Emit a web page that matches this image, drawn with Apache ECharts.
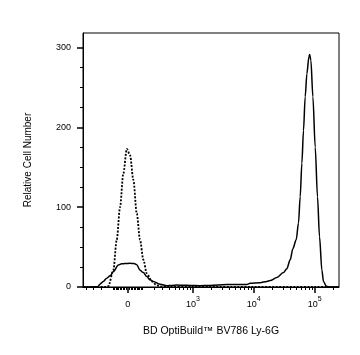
<!DOCTYPE html>
<html>
<head>
<meta charset="utf-8">
<script src="https://cdn.jsdelivr.net/npm/echarts@6/dist/echarts.min.js"></script>
<style>
html,body{margin:0;padding:0;background:#fff;}
#c{width:360px;height:355px;}
</style>
</head>
<body>
<div id="c"></div>
<script>
// ---- data (fluorescence intensity vs. relative cell number) ----
const solidX = [-452, -338, -238, -217, -183, -152, -124, -99, -63, -40,
  -18, 15, 42, 60, 83, 108, 135, 163, 194, 269,
  358, 444, 536, 700, 901, 1300, 1930, 3630, 7725, 8750,
  12770, 16430, 18670, 23960, 30780, 34950, 39620, 43870, 49700, 54220,
  57800, 61620, 65480, 69810, 74420, 80270, 82700, 86500, 93400, 101900,
  111100, 119900, 131100, 139300, 154300, 179400, 250000];
const solidY = [0, 0, 0.5, 3.5, 7, 11, 14, 19, 27.5, 29,
  29.5, 29.6, 29.5, 28, 21, 18, 13, 9, 7, 3.3,
  1.5, 2, 2.4, 2.2, 2, 1.7, 2, 3, 3, 4.6,
  5.4, 7, 8, 12, 18, 23, 34, 48, 59, 80,
  113, 155, 196, 238, 267, 288, 291, 284, 238, 175,
  113, 63, 21, 7, 1, 0, 0];
const dotX = [-452, -158, -138, -99, -74, -51, -29, -6, 15, 37, 60, 83, 108, 135, 180, 230, 281, 400, 1000, 10000, 100000, 250000];
const dotY = [0, 0, 1, 21, 59, 100, 142, 173, 165, 134, 92, 59, 34, 17, 7, 2, 0.5, 0, 0, 0, 0, 0];

const xMajorValues = [0, 1e3, 1e4, 1e5];
const xMajorLabels = ['0', '10^3', '10^4', '10^5'];
const xMinorValues = [-400, -300, -200, -100, -90, -80, -70, -60, -50, -40, -30, -20, -10,
  10, 20, 30, 40, 50, 60, 70, 80, 90,
  100, 200, 300, 400, 500, 600, 700, 800, 900,
  2000, 3000, 4000, 5000, 6000, 7000, 8000, 9000,
  20000, 30000, 40000, 50000, 60000, 70000, 80000, 90000, 200000];
const yTicks = [0, 100, 200, 300];
const xTitle = 'BD OptiBuild™ BV786 Ly-6G';
const yTitle = 'Relative Cell Number';

// biexponential-like (arcsinh) display transform
const W = 173;
const T = v => Math.asinh(v / W);
const xMin = T(-452), xMax = T(250000);

const font = '"Liberation Sans", Arial, Helvetica, sans-serif';
const chart = echarts.init(document.getElementById('c'), null, {renderer: 'canvas'});

function fmtX(val) {
  for (let i = 0; i < xMajorValues.length; i++) {
    if (Math.abs(T(xMajorValues[i]) - val) < 1e-6) {
      const s = xMajorLabels[i];
      if (s.indexOf('^') >= 0) {
        const p = s.split('^');
        return '{b|' + p[0] + '}{s|' + p[1] + '}';
      }
      return '{b|' + s + '}';
    }
  }
  return '';
}

chart.setOption({
  animation: false,
  backgroundColor: '#fff',
  grid: {left: 83, right: 21, top: 33, bottom: 68, show: true, borderColor: '#000', borderWidth: 1, backgroundColor: 'transparent'},
  xAxis: [{
    type: 'value', min: xMin, max: xMax, position: 'bottom',
    name: xTitle, nameLocation: 'middle', nameGap: 39,
    nameTextStyle: {fontFamily: font, fontSize: 10.5, color: '#000'},
    axisLine: {show: true, onZero: false, lineStyle: {color: '#000', width: 1}},
    axisTick: {show: true, length: 6, inside: false, lineStyle: {color: '#000', width: 1.5},
      customValues: xMajorValues.map(T)},
    axisLabel: {show: true, margin: 10, customValues: xMajorValues.map(T), formatter: fmtX,
      fontFamily: font, color: '#000',
      rich: {
        b: {fontFamily: font, fontSize: 9, color: '#000', lineHeight: 10, padding: [6, 0, 0, 0]},
        s: {fontFamily: font, fontSize: 7, color: '#000', lineHeight: 8, padding: [1, 0, 7, 0]}
      }},
    splitLine: {show: false}
  }, {
    type: 'value', min: xMin, max: xMax, position: 'bottom', gridIndex: 0,
    axisLine: {show: false, onZero: false},
    axisTick: {show: true, length: 3, inside: false, lineStyle: {color: '#000', width: 1},
      customValues: xMinorValues.map(T)},
    axisLabel: {show: false},
    splitLine: {show: false}
  }],
  yAxis: {
    type: 'value', min: 0, max: 318, interval: 100, position: 'left',
    name: yTitle, nameLocation: 'middle', nameGap: 50, nameRotate: 90,
    nameTextStyle: {fontFamily: font, fontSize: 10, color: '#000'},
    axisLine: {show: true, onZero: false, lineStyle: {color: '#000', width: 1}},
    axisTick: {show: true, length: 6, lineStyle: {color: '#000', width: 1.5}, customValues: yTicks},
    minorTick: {show: true, splitNumber: 4, length: 3, lineStyle: {color: '#000', width: 1}},
    axisLabel: {show: true, margin: 12, fontFamily: font, fontSize: 9, color: '#000', customValues: yTicks},
    splitLine: {show: false}, minorSplitLine: {show: false}
  },
  series: [{
    type: 'line', name: 'control', xAxisIndex: 0,
    data: dotX.map((x, i) => [T(x), dotY[i]]),
    showSymbol: false, symbol: 'none', smooth: 0.3, smoothMonotone: 'x',
    lineStyle: {color: '#000', width: 1.8, type: [2, 1.5]}, z: 3
  }, {
    type: 'line', name: 'stained', xAxisIndex: 0,
    data: solidX.map((x, i) => [T(x), solidY[i]]),
    showSymbol: false, symbol: 'none', smooth: 0.3, smoothMonotone: 'x',
    lineStyle: {color: '#000', width: 1.5, type: 'solid'}, z: 4
  }]
});
</script>
</body>
</html>
